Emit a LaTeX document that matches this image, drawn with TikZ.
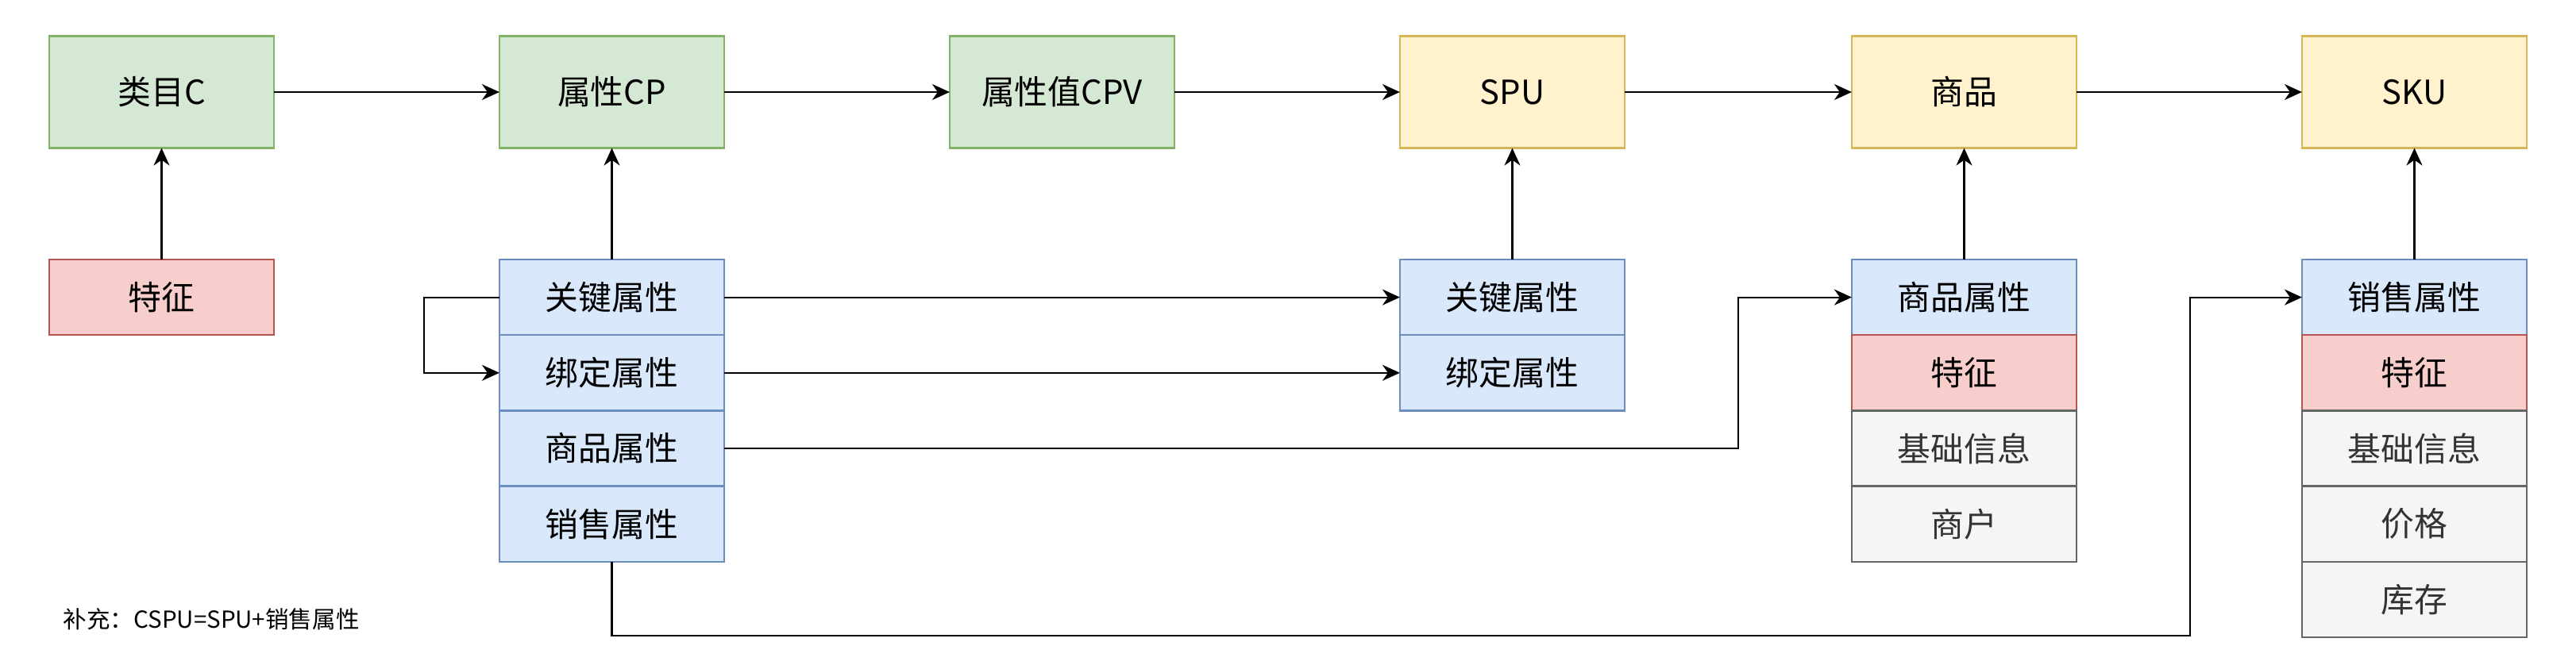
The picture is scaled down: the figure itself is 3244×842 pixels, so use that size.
\documentclass[tikz,border=0pt]{standalone}
\usepackage{fontspec}
\setmainfont{Noto Sans CJK SC}
\usetikzlibrary{arrows.meta,calc}
\definecolor{gfill}{HTML}{D5E8D4}\definecolor{gline}{HTML}{82B366}
\definecolor{yfill}{HTML}{FFF2CC}\definecolor{yline}{HTML}{D6B656}
\definecolor{rfill}{HTML}{F8CECC}\definecolor{rline}{HTML}{B85450}
\definecolor{bfill}{HTML}{DAE8FC}\definecolor{bline}{HTML}{6C8EBF}
\definecolor{sfill}{HTML}{F5F5F5}\definecolor{sline}{HTML}{666666}
\definecolor{stext}{HTML}{333333}
\begin{document}
\begin{tikzpicture}[x=0.01cm,y=-0.01cm,
  box/.style={rectangle,inner sep=0pt,outer sep=0pt,minimum width=2.83cm,line width=0.7pt,font=\fontsize{11.9}{14}\selectfont},
  topbox/.style={box,minimum height=1.41cm},
  cell/.style={box,minimum height=0.952cm},
  green/.style={fill=gfill,draw=gline},
  yellow/.style={fill=yfill,draw=yline},
  red/.style={fill=rfill,draw=rline},
  blue/.style={fill=bfill,draw=bline},
  grey/.style={fill=sfill,draw=sline,text=stext},
  arr/.style={line width=0.6pt,-{Stealth[length=0.22cm,width=0.2cm,inset=0.07cm]}},
  link/.style={line width=0.6pt}]
\path[use as bounding box,fill=white] (0,0) rectangle (3244,842);
% top row
\node[topbox,green] (c) at (203.5,116) {类目C};
\node[topbox,green] (cp) at (770.5,116) {属性CP};
\node[topbox,green] (cpv) at (1337.5,116) {属性值CPV};
\node[topbox,yellow] (spu) at (1904.5,116) {SPU};
\node[topbox,yellow] (gp) at (2473.5,116) {商品};
\node[topbox,yellow] (sku) at (3040.5,116) {SKU};
% left feature
\node[cell,red] (tz) at (203.5,374.6) {特征};
% CP stack
\node[cell,blue] (k1) at (770.5,374.6) {关键属性};
\node[cell,blue] (b1) at (770.5,469.8) {绑定属性};
\node[cell,blue] (p1) at (770.5,565) {商品属性};
\node[cell,blue] (s1) at (770.5,660.2) {销售属性};
% SPU stack
\node[cell,blue] (k2) at (1904.5,374.6) {关键属性};
\node[cell,blue] (b2) at (1904.5,469.8) {绑定属性};
% 商品 stack
\node[cell,blue] (p3) at (2473.5,374.6) {商品属性};
\node[cell,red] (t3) at (2473.5,469.8) {特征};
\node[cell,grey] (j3) at (2473.5,565) {基础信息};
\node[cell,grey] (h3) at (2473.5,660.2) {商户};
% SKU stack
\node[cell,blue] (s4) at (3040.5,374.6) {销售属性};
\node[cell,red] (t4) at (3040.5,469.8) {特征};
\node[cell,grey] (j4) at (3040.5,565) {基础信息};
\node[cell,grey] (j5) at (3040.5,660.2) {价格};
\node[cell,grey] (k5) at (3040.5,755.4) {库存};
% note
\node[anchor=west,inner sep=0pt,font=\fontsize{8.4}{10}\selectfont] (note) at (79,780) {补充：CSPU=SPU+销售属性};
% top arrows
\draw[arr] (c) -- (cp);
\draw[arr] (cp) -- (cpv);
\draw[arr] (cpv) -- (spu);
\draw[arr] (spu) -- (gp);
\draw[arr] (gp) -- (sku);
% vertical arrows
\draw[arr] (tz.north) -- (c.south);
\draw[arr] (k1.north) -- (cp.south);
\draw[arr] (k2.north) -- (spu.south);
\draw[arr] (p3.north) -- (gp.south);
\draw[arr] (s4.north) -- (sku.south);
% loop
\draw[arr] (k1.west) -- ++(-95,0) |- (b1.west);
\draw[arr] (k1.east) -- (k2.west);
\draw[arr] (b1.east) -- (b2.west);
\draw[arr] (p1.east) -| ([xshift=-1.43cm]p3.west) -- (p3.west);
\coordinate (low) at (0,801);
\draw[arr] (s1.south) -- (s1.south |- low) -| ([xshift=-1.41cm]s4.west) -- (s4.west);
\end{tikzpicture}
\end{document}
